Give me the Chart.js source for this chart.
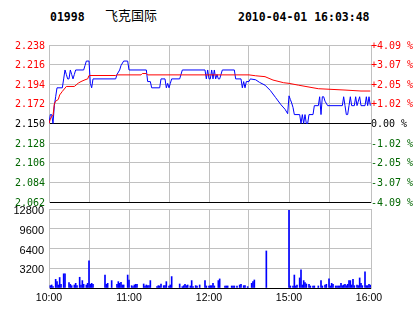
<!DOCTYPE html>
<html>
<head>
<meta charset="utf-8">
<script src="https://cdn.jsdelivr.net/npm/chart.js@4.4.0/dist/chart.umd.min.js"></script>
<style>
    body { margin: 0; background: #fff; }
    #wrap { position: relative; width: 414px; height: 314px; overflow: hidden; }
    #wrap canvas { position: absolute; left: 0; top: 0; }
    .hdr { position: absolute; top: 11px; font: bold 11.5px "DejaVu Sans Mono"; line-height: 12px; color: #000; white-space: nowrap; }
    .name { position: absolute; top: 8px; left: 105px; font: 13px "Noto Sans CJK SC"; line-height: 13px; color: #000; }
</style>
</head>
<body>
<div id="wrap">
    <div class="hdr" style="left:50px">01998</div>
    <div class="name">飞克国际</div>
    <div class="hdr" style="left:238px">2010-04-01 16:03:48</div>
    <canvas id="priceChart" width="414" height="314"></canvas>
    <canvas id="volumeChart" width="414" height="314"></canvas>
</div>
<script>
// minute index: 0 = 10:00, 150 = 12:30 / 14:30, 240 = 16:00
const timeGrid = [0, 30, 60, 90, 120, 150, 180, 210, 240];
const timeLabels = ['10:00', '', '11:00', '', '12:00', '', '15:00', '', '16:00'];

const prevClose = 2.150;
const priceTicks = [2.062, 2.084, 2.106, 2.128, 2.150, 2.172, 2.194, 2.216, 2.238];
const pctLabels = ['-4.09 %', '-3.07 %', '-2.05 %', '-1.02 %', '0.00 %', '+1.02 %', '+2.05 %', '+3.07 %', '+4.09 %'];
const volumeTicks = [0, 3200, 6400, 9600, 12800];

// [minute, price]
const priceLine = [
    [0, 2.150], [1, 2.160], [2, 2.160], [3, 2.150], [4, 2.170], [5, 2.180], [6, 2.190], [10, 2.190],
    [11, 2.200], [12, 2.210], [13, 2.205], [14, 2.200], [15, 2.200], [16, 2.210], [17, 2.205], [18, 2.200],
    [19, 2.205], [20, 2.210], [26, 2.210], [27, 2.215], [28, 2.220], [30, 2.220], [31, 2.195], [32, 2.190],
    [33, 2.200], [50, 2.200], [51, 2.205], [53, 2.210], [54, 2.215], [56, 2.220], [59, 2.220], [60, 2.210],
    [73, 2.210], [74, 2.197], [76, 2.197], [77, 2.190], [83, 2.190], [84, 2.200], [87, 2.200], [88, 2.190],
    [89, 2.195], [90, 2.190], [91, 2.195], [92, 2.200], [98, 2.200], [99, 2.205], [100, 2.210], [117, 2.210],
    [118, 2.200], [119, 2.210], [120, 2.200], [121, 2.200], [122, 2.210], [123, 2.200], [124, 2.210], [125, 2.200],
    [126, 2.205], [127, 2.200], [128, 2.200], [129, 2.205], [130, 2.210], [139, 2.210], [140, 2.200], [144, 2.200],
    [145, 2.190], [146, 2.197], [147, 2.190], [148, 2.197], [150, 2.197], [151, 2.200], [155, 2.199], [158, 2.196],
    [162, 2.193], [166, 2.187], [170, 2.179], [174, 2.171], [177, 2.166], [179, 2.161], [180, 2.181], [181, 2.177],
    [182, 2.173], [183, 2.168], [184, 2.160], [188, 2.160], [189, 2.150], [190, 2.160], [191, 2.150], [192, 2.160],
    [193, 2.150], [194, 2.150], [195, 2.160], [198, 2.160], [199, 2.170], [202, 2.170], [203, 2.180], [204, 2.160],
    [205, 2.180], [206, 2.180], [207, 2.175], [209, 2.170], [220, 2.170], [221, 2.180], [222, 2.170], [223, 2.160],
    [224, 2.160], [225, 2.170], [226, 2.180], [227, 2.170], [229, 2.170], [230, 2.180], [231, 2.170], [232, 2.175],
    [233, 2.180], [234, 2.170], [237, 2.170], [238, 2.180], [239, 2.170], [240, 2.180], [241, 2.170]
];

// [minute, average price]
const avgLine = [
    [0, 2.150], [1, 2.155], [2, 2.158], [3, 2.159], [4, 2.172], [5, 2.175], [7, 2.177], [8, 2.182],
    [10, 2.186], [13, 2.1915], [19, 2.1915], [22, 2.1953], [24, 2.197], [27, 2.199], [29, 2.200], [30, 2.2038],
    [50, 2.2038], [51, 2.2045], [69, 2.2045], [70, 2.206], [73, 2.206], [74, 2.2045], [150, 2.2045], [155, 2.2035],
    [162, 2.2025], [168, 2.1987], [176, 2.1957], [180, 2.195], [187, 2.193], [202, 2.189], [222, 2.1875], [234, 2.1864],
    [241, 2.1864]
];

// [minute, volume]
const volumeBars = [
    [1, 380], [2, 490], [3, 220], [5, 1400], [6, 1030], [7, 490], [8, 1700], [9, 600], [11, 2300], [12, 2300],
    [15, 870], [16, 600], [17, 380], [19, 490], [20, 760], [21, 380], [23, 1740], [24, 490], [25, 1200], [26, 600],
    [28, 490], [29, 760], [30, 4400], [31, 600], [32, 760], [33, 600], [42, 2100], [43, 600], [44, 760], [47, 1200],
    [51, 600], [52, 1030], [53, 760], [54, 920], [55, 490], [56, 490], [59, 2100], [60, 1300], [62, 380], [63, 220],
    [64, 490], [65, 600], [66, 600], [71, 650], [72, 330], [73, 490], [74, 380], [75, 380], [76, 1200], [81, 220],
    [82, 380], [83, 330], [84, 650], [86, 380], [87, 380], [88, 1030], [90, 330], [91, 490], [92, 1850], [98, 650],
    [100, 220], [101, 380], [102, 600], [103, 380], [104, 490], [106, 330], [107, 1200], [108, 220], [110, 380], [111, 330],
    [113, 490], [117, 1200], [118, 330], [120, 330], [121, 380], [122, 380], [123, 760], [124, 330], [127, 1200], [128, 1470],
    [132, 330], [133, 330], [134, 330], [137, 330], [138, 330], [139, 330], [141, 330], [143, 490], [144, 600], [146, 380],
    [147, 380], [149, 220], [152, 760], [153, 1030], [154, 1300], [163, 6000], [180, 12600], [181, 330], [183, 330], [184, 2100],
    [185, 330], [186, 490], [188, 1630], [189, 2930], [190, 490], [191, 1200], [192, 870], [193, 650], [195, 600], [196, 330],
    [198, 330], [199, 330], [202, 330], [204, 1200], [205, 330], [207, 490], [208, 600], [210, 1470], [211, 330], [212, 760],
    [213, 600], [215, 330], [216, 330], [217, 330], [218, 330], [219, 760], [220, 380], [221, 490], [222, 600], [223, 380],
    [224, 600], [225, 1200], [226, 1200], [227, 490], [228, 1410], [229, 380], [231, 490], [232, 380], [233, 1630], [234, 760],
    [235, 380], [237, 2600], [238, 380], [239, 380], [240, 600], [241, 490]
];

const GRID = '#c0c0c0';
const UP = '#ff0000';
const DOWN = '#006600';

let priceChart = null;
let volumeChart = null;

function toXY(pairs) {
    return pairs.map(p => ({ x: p[0], y: p[1] }));
}

function useTicks(values) {
    return function(scale) {
        scale.ticks = values.map(v => ({ value: v }));
    };
}

function priceColor(value) {
    if (Math.abs(value - prevClose) < 1e-6) return '#000';
    return value > prevClose ? UP : DOWN;
}

// shared time axis (no offset, so bars and lines use the same pixels)
function timeAxis(showLabels) {
    return {
        type: 'linear',
        min: 0,
        max: 241.5,
        offset: false,
        afterBuildTicks: useTicks(timeGrid),
        afterFit: scale => { scale.height = showLabels ? 26 : 0; },
        ticks: {
            display: showLabels,
            padding: 4,
            maxRotation: 0,
            autoSkip: false,
            color: '#000',
            font: { family: 'Liberation Sans', size: 10.5 },
            callback: (v, i) => timeLabels[i]
        },
        grid: {
            offset: false,
            drawTicks: false,
            color: c => (c.tick && c.tick.value === 240) ? 'rgba(0,0,0,0)' : GRID
        },
        border: { color: '#000' }
    };
}

function buildPriceChart() {
    const ctx = document.getElementById('priceChart').getContext('2d');

    priceChart = new Chart(ctx, {
        type: 'line',
        data: {
            datasets: [{
                data: toXY(avgLine),
                borderColor: '#ff0000',
                borderWidth: 1,
                pointRadius: 0,
                tension: 0
            }, {
                data: toXY(priceLine),
                borderColor: '#0000ff',
                borderWidth: 1,
                pointRadius: 0,
                tension: 0
            }]
        },
        options: {
            responsive: false,
            animation: false,
            events: [],
            layout: { padding: { top: 45, bottom: 112, left: 0, right: 0 } },
            plugins: { legend: { display: false }, tooltip: { enabled: false } },
            scales: {
                x: timeAxis(false),
                y: {
                    position: 'left',
                    min: priceTicks[0],
                    max: priceTicks[priceTicks.length - 1],
                    afterBuildTicks: useTicks(priceTicks),
                    afterFit: scale => { scale.width = 49; },
                    ticks: {
                        padding: 4,
                        labelOffset: 1,
                        font: { family: 'DejaVu Sans Mono', size: 10 },
                        color: c => priceColor(c.tick.value),
                        callback: v => v.toFixed(3)
                    },
                    grid: {
                        drawTicks: false,
                        color: c => {
                            const v = c.tick.value;
                            if (Math.abs(v - prevClose) < 1e-6 || Math.abs(v - priceTicks[0]) < 1e-6) return '#000';
                            return GRID;
                        }
                    },
                    border: { color: GRID }
                },
                y2: {
                    position: 'right',
                    min: priceTicks[0],
                    max: priceTicks[priceTicks.length - 1],
                    afterBuildTicks: useTicks(priceTicks),
                    afterFit: scale => { scale.width = 43; },
                    ticks: {
                        padding: 0,
                        labelOffset: 1,
                        font: { family: 'DejaVu Sans Mono', size: 10 },
                        color: c => priceColor(c.tick.value),
                        callback: (v, i) => pctLabels[i]
                    },
                    grid: { drawOnChartArea: false, drawTicks: false },
                    border: { color: GRID }
                }
            }
        }
    });
}

function buildVolumeChart() {
    const ctx = document.getElementById('volumeChart').getContext('2d');

    volumeChart = new Chart(ctx, {
        type: 'bar',
        data: {
            datasets: [{
                data: toXY(volumeBars),
                backgroundColor: '#0000ff',
                borderWidth: 0,
                barThickness: 1
            }]
        },
        options: {
            responsive: false,
            animation: false,
            events: [],
            layout: { padding: { top: 209, bottom: 0, left: 0, right: 0 } },
            plugins: { legend: { display: false }, tooltip: { enabled: false } },
            scales: {
                x: timeAxis(true),
                y: {
                    position: 'left',
                    min: 0,
                    max: volumeTicks[volumeTicks.length - 1],
                    afterBuildTicks: useTicks(volumeTicks),
                    afterFit: scale => { scale.width = 49; },
                    ticks: {
                        padding: 5,
                        labelOffset: 2,
                        color: '#000',
                        font: { family: 'Liberation Sans', size: 11 },
                        callback: v => (v === 0 ? '' : v)
                    },
                    grid: {
                        drawTicks: false,
                        color: c => (c.tick && c.tick.value === 0) ? '#000' : GRID
                    },
                    border: { color: GRID }
                },
                y2: {
                    position: 'right',
                    min: 0,
                    max: volumeTicks[volumeTicks.length - 1],
                    afterFit: scale => { scale.width = 43; },
                    ticks: { display: false },
                    grid: { drawOnChartArea: false, drawTicks: false },
                    border: { color: GRID }
                }
            }
        }
    });
}

document.addEventListener('DOMContentLoaded', function() {
    buildPriceChart();
    buildVolumeChart();
});
</script>
</body>
</html>
